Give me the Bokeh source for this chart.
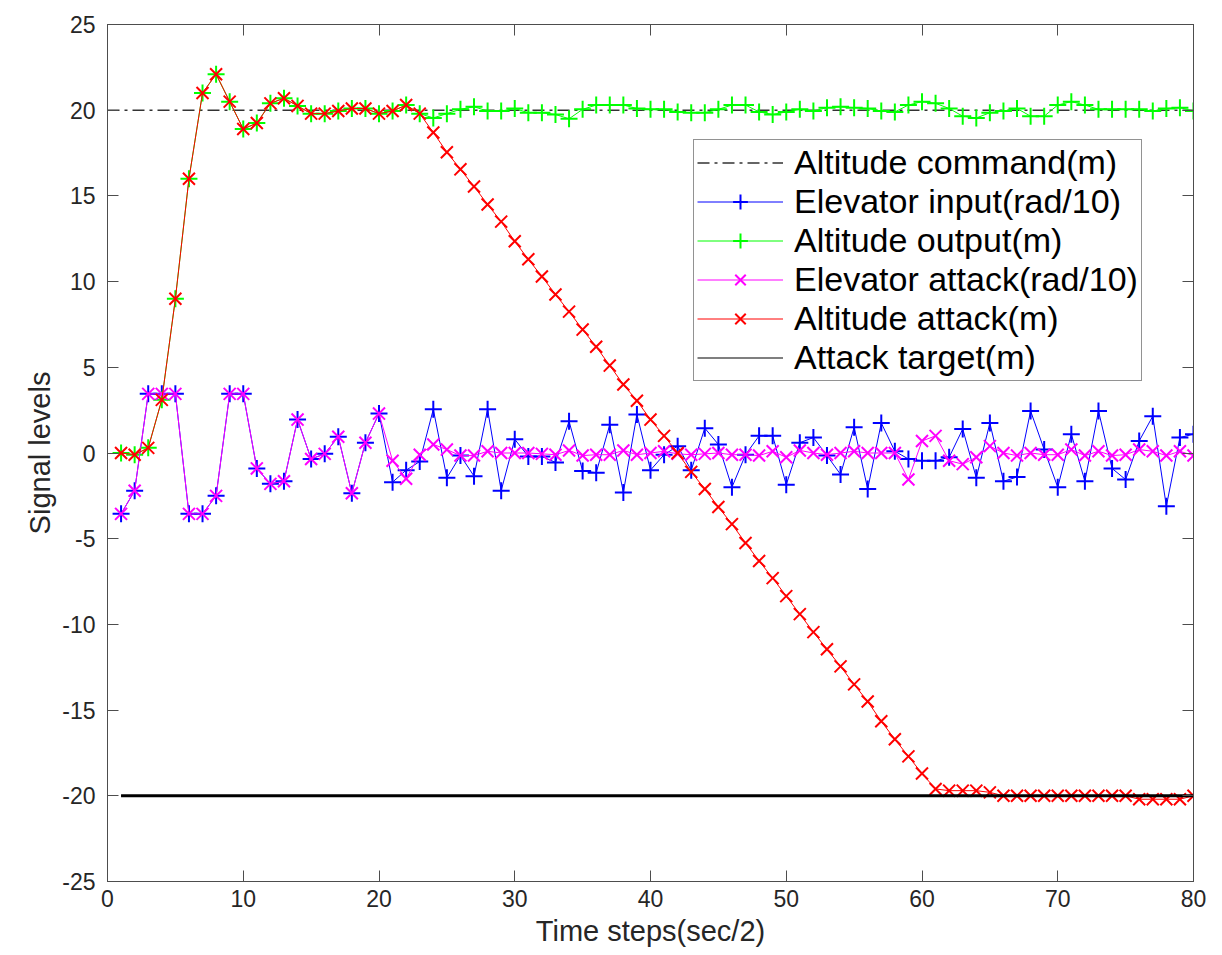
from bokeh.plotting import figure
from bokeh.models import Legend, LegendItem, LinearAxis, FixedTicker, Range1d
from bokeh.embed import file_html
from bokeh.resources import INLINE

# ---------------- data ----------------
t = list(range(1, 81))

altitude_output = [
    0.0, -0.1, 0.3, 3.1, 9.0, 16.0, 21.0, 22.1, 20.5, 18.9,
    19.25, 20.4, 20.7, 20.25, 19.8, 19.8, 19.95, 20.1, 20.1, 19.8,
    19.95, 20.3, 19.8, 19.55, 19.8, 20.05, 20.2, 19.95, 19.95, 20.1,
    19.85, 19.85, 19.75, 19.5, 20.05, 20.3, 20.3, 20.3, 20.1, 20.05,
    20.05, 19.9, 19.85, 19.85, 20.05, 20.3, 20.3, 19.9, 19.75, 19.9,
    20.05, 19.95, 20.15, 20.2, 20.15, 20.1, 19.95, 19.9, 20.3, 20.5,
    20.4, 20.1, 19.65, 19.55, 19.85, 19.95, 20.1, 19.65, 19.65, 20.3,
    20.5, 20.3, 20.05, 20.05, 20.05, 20.05, 19.95, 20.1, 20.15, 19.95,
]

altitude_attack = [
    0.0, -0.1, 0.3, 3.1, 9.0, 16.0, 21.0, 22.1, 20.5, 18.9,
    19.25, 20.4, 20.7, 20.25, 19.8, 19.8, 19.95, 20.1, 20.1, 19.8,
    19.95, 20.3, 19.8, 18.7, 17.55, 16.55, 15.55, 14.5, 13.5, 12.35,
    11.3, 10.3, 9.25, 8.25, 7.2, 6.2, 5.1, 4.0, 3.05, 1.95,
    1.0, 0.0, -1.1, -2.1, -3.15, -4.15, -5.25, -6.3, -7.3, -8.35,
    -9.4, -10.45, -11.45, -12.45, -13.5, -14.5, -15.65, -16.7, -17.7, -18.7,
    -19.6, -19.7, -19.7, -19.7, -19.8, -20.0, -20.0, -20.0, -20.0, -20.0,
    -20.0, -20.0, -20.0, -20.0, -20.0, -20.2, -20.2, -20.2, -20.2, -20.0,
]

elevator_input = [
    -3.55, -2.2, 3.45, 3.45, 3.45, -3.55, -3.55, -2.5, 3.45, 3.45,
    -0.9, -1.8, -1.65, 1.95, -0.35, -0.05, 0.95, -2.35, 0.6, 2.3,
    -1.7, -1.0, -0.5, 2.55, -1.45, -0.15, -1.35, 2.55, -2.2, 0.8,
    -0.2, -0.2, -0.55, 1.85, -1.05, -1.15, 1.65, -2.3, 2.25, -1.0,
    -0.1, 0.4, -1.0, 1.45, 0.5, -2.0, -0.1, 1.0, 1.0, -1.85,
    0.6, 0.9, -0.15, -1.25, 1.5, -2.1, 1.75, 0.1, -0.35, -0.45,
    -0.45, -0.25, 1.4, -1.45, 1.75, -1.65, -1.4, 2.45, 0.2, -2.0,
    1.1, -1.65, 2.45, -0.9, -1.55, 0.7, 2.15, -3.1, 0.9, 1.1,
]

elevator_attack = [
    -3.55, -2.2, 3.45, 3.45, 3.45, -3.55, -3.55, -2.5, 3.45, 3.45,
    -0.9, -1.8, -1.65, 1.95, -0.35, -0.05, 0.95, -2.35, 0.6, 2.3,
    -0.45, -1.5, -0.1, 0.5, 0.2, -0.15, -0.15, 0.1, 0.0, 0.0,
    0.0, -0.05, -0.1, 0.15, -0.15, -0.1, -0.1, 0.15, -0.1, 0.0,
    0.1, -0.05, -0.1, -0.05, 0.0, -0.1, -0.1, -0.15, 0.1, -0.25,
    0.15, 0.0, -0.1, 0.0, 0.1, 0.0, 0.0, 0.0, -1.55, 0.7,
    1.0, -0.45, -0.65, -0.25, 0.4, 0.0, -0.15, 0.0, -0.1, -0.1,
    0.2, -0.15, 0.1, -0.15, -0.1, 0.2, 0.1, -0.15, 0.1, -0.15,
]

command_t = [0, 80]
command_level = [20, 20]
target_t = [1, 80]
target_level = [-20, -20]

x_ticks = [0, 10, 20, 30, 40, 50, 60, 70, 80]
y_ticks = [-25, -20, -15, -10, -5, 0, 5, 10, 15, 20, 25]
x_tick_labels = ["0", "10", "20", "30", "40", "50", "60", "70", "80"]
y_tick_labels = ["-25", "-20", "-15", "-10", "-5", "0", "5", "10", "15", "20", "25"]

FONT = "Liberation Sans"
TXT = "#262626"
AX = "#4d4d4d"

p = figure(width=1222, height=955, output_backend="svg", toolbar_location=None,
           x_range=Range1d(0, 80), y_range=Range1d(-25, 25))
p.min_border_left = 107
p.min_border_right = 29
p.min_border_top = 24
p.min_border_bottom = 74
p.background_fill_color = "white"
p.border_fill_color = "white"
p.outline_line_color = AX
p.xgrid.visible = False
p.ygrid.visible = False

def style_axis(ax, labels=True):
    ax.major_tick_in = 11
    ax.major_tick_out = 0
    ax.minor_tick_line_color = None
    ax.axis_line_color = AX
    ax.major_tick_line_color = AX
    ax.major_label_text_font = FONT
    if labels:
        ax.major_label_text_font_size = "23px"
        ax.major_label_text_color = TXT
    else:
        ax.major_label_text_font_size = "1px"
        ax.major_label_text_color = None
        ax.major_label_standoff = 0

p.xaxis.ticker = FixedTicker(ticks=x_ticks)
p.yaxis.ticker = FixedTicker(ticks=y_ticks)
p.xaxis.major_label_overrides = dict(zip(x_ticks, x_tick_labels))
p.yaxis.major_label_overrides = dict(zip(y_ticks, y_tick_labels))
for ax in p.xaxis + p.yaxis:
    style_axis(ax)
p.xaxis.axis_label = "Time steps(sec/2)"
p.yaxis.axis_label = "Signal levels"
for ax in p.xaxis + p.yaxis:
    ax.axis_label_text_font = FONT
    ax.axis_label_text_font_size = "29px"
    ax.axis_label_text_font_style = "normal"
    ax.axis_label_text_color = TXT
p.xaxis.major_label_standoff = 8
p.yaxis.major_label_standoff = 12
p.xaxis.axis_label_standoff = 5
p.yaxis.axis_label_standoff = 3

top = LinearAxis(ticker=FixedTicker(ticks=x_ticks))
style_axis(top, labels=False)
p.add_layout(top, "above")
right = LinearAxis(ticker=FixedTicker(ticks=y_ticks))
style_axis(right, labels=False)
p.add_layout(right, "right")

# ---------------- series ----------------
r_cmd = p.line(command_t, command_level, line_color="#333333", line_width=1.5,
               line_dash="12 5 3 5")

r_ein_l = p.line(t, elevator_input, line_color="#0000ff", line_width=1)
r_ein_m = p.scatter(t, elevator_input, marker="cross", size=17, line_color="#0000ff",
                    line_width=2)

r_aout_l = p.line(t, altitude_output, line_color="#00ff00", line_width=1)
r_aout_m = p.scatter(t, altitude_output, marker="cross", size=17, line_color="#00ff00",
                     line_width=2)

r_eatt_l = p.line(t, elevator_attack, line_color="#ff00ff", line_width=1)
r_eatt_m = p.scatter(t, elevator_attack, marker="x", size=17, line_color="#ff00ff",
                     line_width=2)

r_aatt_l = p.line(t, altitude_attack, line_color="#ff0000", line_width=1)
r_aatt_m = p.scatter(t, altitude_attack, marker="x", size=17, line_color="#ff0000",
                     line_width=2)

r_tgt_thin = p.line(target_t, target_level, line_color="black", line_width=1.2)
r_tgt = p.line(target_t, target_level, line_color="black", line_width=3)

legend = Legend(items=[
    LegendItem(label="Altitude command(m)", renderers=[r_cmd]),
    LegendItem(label="Elevator input(rad/10)", renderers=[r_ein_l, r_ein_m]),
    LegendItem(label="Altitude output(m)", renderers=[r_aout_l, r_aout_m]),
    LegendItem(label="Elevator attack(rad/10)", renderers=[r_eatt_l, r_eatt_m]),
    LegendItem(label="Altitude attack(m)", renderers=[r_aatt_l, r_aatt_m]),
    LegendItem(label="Attack target(m)", renderers=[r_tgt_thin]),
], location=(586, 500))
legend.label_text_font = FONT
legend.label_text_font_size = "34px"
legend.label_text_color = "black"
legend.label_height = 37
legend.glyph_height = 37
legend.glyph_width = 86
legend.label_standoff = 11
legend.spacing = 0
legend.padding = 3
legend.margin = 0
legend.border_line_color = "#262626"
legend.border_line_width = 1
legend.background_fill_color = "white"
legend.background_fill_alpha = 1
p.add_layout(legend, "center")

open("out.html", "w").write(file_html(p, INLINE))
